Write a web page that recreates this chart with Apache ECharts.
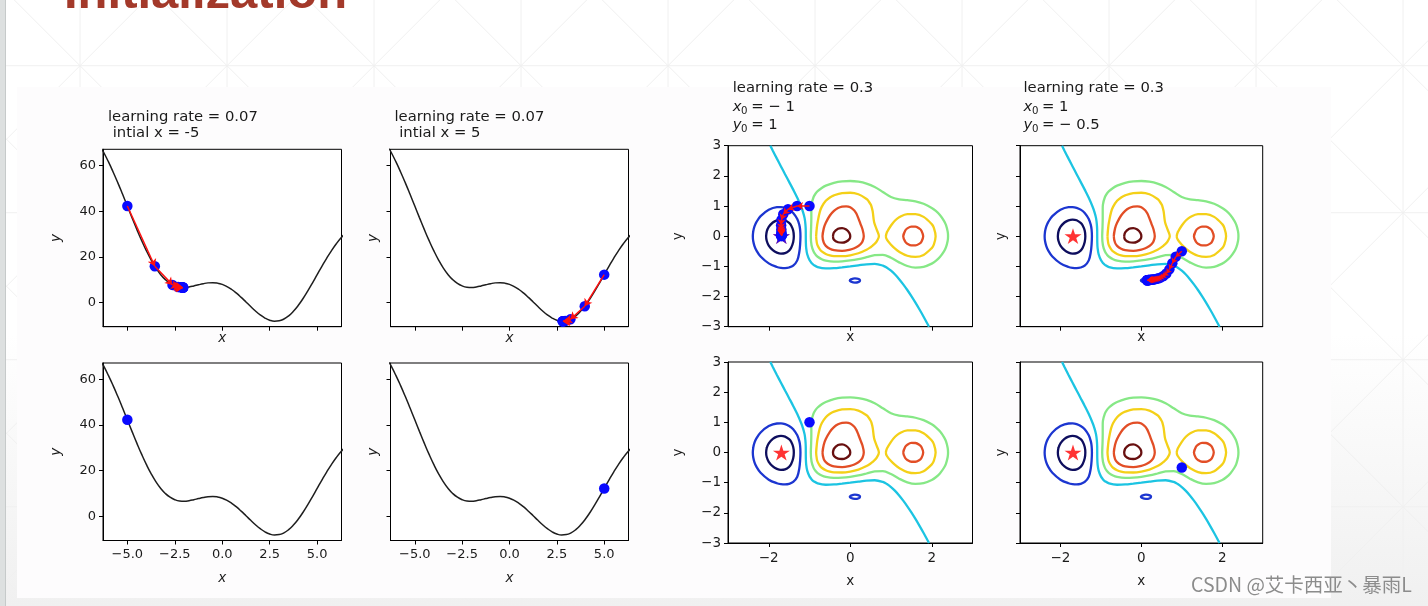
<!DOCTYPE html>
<html><head><meta charset="utf-8">
<script src="https://cdn.jsdelivr.net/npm/echarts@6/dist/echarts.min.js"></script>
<style>html,body{margin:0;padding:0;background:#fff;}#c{width:1428px;height:606px;}</style>
</head><body><div id="c"></div>
<script>
// ---------------- DATA ----------------
// 1-D objective curve
const curveX = [-6.5,-6.25,-6,-5.75,-5.5,-5.25,-5,-4.75,-4.5,-4.25,-4,-3.75,-3.5,-3.25,-3,-2.75,-2.5,-2.25,-2,-1.75,-1.5,-1.25,-1,-0.75,-0.5,-0.25,0,0.25,0.5,0.75,1,1.25,1.5,1.75,2,2.25,2.5,2.75,3,3.25,3.5,3.75,4,4.25,4.5,4.75,5,5.25,5.5,5.75,6,6.25,6.5];
const curveY = [69.56,65.81,61.68,57.20,52.42,47.41,42.27,37.11,32.06,27.24,22.77,18.75,15.26,12.36,10.08,8.42,7.34,6.79,6.67,6.89,7.32,7.84,8.32,8.67,8.77,8.56,8.00,7.06,5.77,4.17,2.32,0.34,-1.68,-3.61,-5.33,-6.71,-7.66,-8.08,-7.92,-7.14,-5.74,-3.75,-1.23,1.74,5.06,8.61,12.27,15.91,19.42,22.70,25.68,28.31,30.56];
// gradient-descent steps, learning rate 0.07
const gdLeftX  = [-5,-3.553,-2.622,-2.323,-2.197,-2.133,-2.098,-2.079,-2.068,-2.061,-2.057];
const gdLeftY  = [42.27,15.94,7.79,6.90,6.73,6.69,6.67,6.67,6.66,6.66,6.66];
const gdRightX = [5,3.973,3.214,2.934,2.849,2.821,2.812,2.810];
const gdRightY = [12.27,-1.53,-7.29,-8.02,-8.09,-8.10,-8.10,-8.10];
// contour paths (data units)
const cNavy = [[-2.064,0],[-2.05,0.15],[-2.0,0.306],[-1.9,0.454],[-1.8,0.527],[-1.7,0.55],[-1.6,0.527],[-1.5,0.44],[-1.45,0.354],[-1.4,0.184],[-1.385,0],[-1.4,-0.193],[-1.45,-0.384],[-1.5,-0.476],[-1.6,-0.56],[-1.7,-0.575],[-1.8,-0.544],[-1.9,-0.463],[-2.0,-0.309],[-2.05,-0.15],[-2.064,0],[-2.05,0.15]];
const cBlue = [[-2.391,0],[-2.38,0.166],[-2.35,0.326],[-2.3,0.475],[-2.2,0.664],[-2.0,0.875],[-1.8,0.962],[-1.7,0.966],[-1.6,0.942],[-1.5,0.881],[-1.4,0.772],[-1.3,0.571],[-1.25,0.376],[-1.23,0.217],[-1.222,0],[-1.23,-0.27],[-1.25,-0.525],[-1.3,-0.801],[-1.4,-0.977],[-1.5,-1.038],[-1.6,-1.056],[-1.7,-1.048],[-1.8,-1.02],[-2.0,-0.901],[-2.2,-0.673],[-2.3,-0.478],[-2.35,-0.325],[-2.38,-0.168],[-2.391,0],[-2.38,0.166]];
const cBlueSmall = [[-0.012,-1.47],[0.02,-1.43],[0.114,-1.395],[0.21,-1.42],[0.24,-1.47],[0.21,-1.515],[0.114,-1.54],[0.02,-1.51],[-0.012,-1.47],[0.02,-1.43]];
const cCyan = [[-1.96,3.0],[-1.9,2.835],[-1.8,2.571],[-1.7,2.312],[-1.6,2.056],[-1.5,1.801],[-1.4,1.544],[-1.3,1.273],[-1.2,0.961],[-1.159,0.8],[-1.12,0.6],[-1.1007,0.4],[-1.092,0.2],[-1.091,0],[-1.0895,-0.2],[-1.081,-0.4],[-1.056,-0.6],[-0.997,-0.8],[-0.942,-0.9],[-0.9,-0.951],[-0.8,-1.024],[-0.6,-1.069],[-0.4,-1.06],[-0.2,-1.032],[0,-1.0],[0.2,-0.965],[0.4,-0.932],[0.6,-0.92],[0.8,-0.975],[0.9,-1.045],[1.0,-1.145],[1.1,-1.272],[1.2,-1.424],[1.3,-1.596],[1.4,-1.784],[1.5,-1.987],[1.6,-2.202],[1.7,-2.431],[1.8,-2.668],[1.9,-2.917],[1.932,-3.0]];
const cGreen = [[-0.968,0],[-0.96,0.3],[-0.955,0.6],[-0.955,0.9],[-0.95,1.05],[-0.9,1.30],[-0.85,1.415],[-0.8,1.492],[-0.7,1.6],[-0.6,1.675],[-0.4,1.77],[-0.2,1.82],[0,1.83],[0.2,1.806],[0.4,1.742],[0.6,1.63],[0.8,1.468],[1.0,1.30],[1.2,1.224],[1.4,1.194],[1.6,1.152],[1.8,1.074],[2.0,0.937],[2.1,0.836],[2.2,0.702],[2.3,0.511],[2.35,0.367],[2.39,0.16],[2.4,0],[2.39,-0.16],[2.35,-0.365],[2.3,-0.506],[2.2,-0.693],[2.1,-0.82],[2.0,-0.91],[1.8,-1.017],[1.6,-1.041],[1.4,-0.988],[1.2,-0.867],[1.0,-0.715],[0.8,-0.617],[0.6,-0.627],[0.4,-0.696],[0.2,-0.759],[0,-0.805],[-0.2,-0.833],[-0.4,-0.841],[-0.6,-0.81],[-0.7,-0.765],[-0.8,-0.682],[-0.85,-0.613],[-0.9,-0.509],[-0.95,-0.30],[-0.968,0],[-0.96,0.3]];
const cYellowL = [[-0.837,0],[-0.82,0.28],[-0.8,0.47],[-0.75,0.79],[-0.7,0.972],[-0.6,1.172],[-0.5,1.283],[-0.4,1.355],[-0.2,1.43],[0,1.441],[0.2,1.389],[0.4,1.234],[0.45,1.16],[0.5,1.054],[0.52,0.99],[0.55,0.825],[0.58,0.51],[0.6,0.4],[0.65,0.22],[0.703,0],[0.65,-0.17],[0.6,-0.25],[0.55,-0.31],[0.5,-0.364],[0.4,-0.45],[0.2,-0.566],[0,-0.633],[-0.2,-0.663],[-0.4,-0.658],[-0.5,-0.636],[-0.6,-0.591],[-0.7,-0.505],[-0.75,-0.43],[-0.8,-0.31],[-0.82,-0.22],[-0.837,0],[-0.82,0.28]];
const cYellowR = [[0.874,0],[0.9,0.13],[1.0,0.355],[1.1,0.522],[1.2,0.63],[1.4,0.733],[1.6,0.733],[1.8,0.641],[2.0,0.40],[2.05,0.282],[2.095,0],[2.05,-0.28],[2.0,-0.394],[1.8,-0.62],[1.6,-0.686],[1.4,-0.648],[1.2,-0.515],[1.1,-0.414],[1.0,-0.285],[0.9,-0.115],[0.874,0],[0.9,0.13]];
const cOrangeL = [[-0.681,0],[-0.65,0.26],[-0.6,0.445],[-0.5,0.686],[-0.4,0.84],[-0.3,0.934],[-0.2,0.98],[-0.1,0.99],[0,0.96],[0.1,0.854],[0.15,0.75],[0.2,0.59],[0.25,0.41],[0.3,0.23],[0.332,0],[0.3,-0.175],[0.25,-0.266],[0.2,-0.323],[0.1,-0.398],[0,-0.443],[-0.2,-0.484],[-0.4,-0.463],[-0.5,-0.417],[-0.6,-0.319],[-0.65,-0.217],[-0.681,0],[-0.65,0.26]];
const cOrangeR = [[1.3,0],[1.35,0.19],[1.4,0.26],[1.5,0.318],[1.6,0.315],[1.7,0.25],[1.75,0.175],[1.79,0],[1.75,-0.174],[1.7,-0.246],[1.6,-0.306],[1.5,-0.306],[1.4,-0.249],[1.35,-0.184],[1.3,0],[1.35,0.19]];
const cDarkRed = [[-0.424,0],[-0.4,0.125],[-0.3,0.246],[-0.2,0.27],[-0.1,0.22],[-0.02,0.105],[0,0],[-0.02,-0.093],[-0.1,-0.18],[-0.2,-0.215],[-0.3,-0.201],[-0.4,-0.115],[-0.424,0],[-0.4,0.125]];
// gradient-descent steps, learning rate 0.3
const trajCX = [-1.0,-1.305,-1.527,-1.644,-1.689,-1.696,-1.692,-1.689,-1.690,-1.690,-1.690,-1.690,-1.690,-1.690];
const trajCY = [1.0,1.0,0.894,0.726,0.538,0.363,0.227,0.136,0.079,0.046,0.027,0.016,0.009,0.005];
const trajDX = [1.0,0.850,0.766,0.693,0.617,0.546,0.484,0.429,0.382,0.342,0.308,0.279,0.254,0.233,0.215,0.200,0.187,0.176,0.166,0.158,0.152,0.146,0.141,0.137];
const trajDY = [-0.5,-0.683,-0.898,-1.099,-1.237,-1.319,-1.366,-1.395,-1.413,-1.424,-1.432,-1.438,-1.443,-1.446,-1.449,-1.451,-1.453,-1.455,-1.456,-1.457,-1.458,-1.459,-1.460,-1.460];
const minPoint = [-1.69, 0];
// ticks
const xTicks1D = [-5, -2.5, 0, 2.5, 5];
const yTicks1D = [0, 20, 40, 60];
const xTicks2D = [-2, 0, 2];
const yTicks2D = [-3, -2, -1, 0, 1, 2, 3];

// ---------------- STYLE / LAYOUT ----------------
const FONT = 'DejaVu Sans';
const TXT = '#1a1a1a';
const levels = [
  {paths:[cNavy], color:'#0e0e5e'},
  {paths:[cBlue, cBlueSmall], color:'#1c36d0'},
  {paths:[cCyan], color:'#1cc4e2'},
  {paths:[cGreen], color:'#86e886'},
  {paths:[cYellowL, cYellowR], color:'#f4d018'},
  {paths:[cOrangeL, cOrangeR], color:'#e24e26'},
  {paths:[cDarkRed], color:'#681010'}
];
const panels = [
  {kind:'1d', box:[103,149.3,238.5,177.4], xl:false, yl:true},
  {kind:'1d', box:[390.5,149.3,238,177.4], xl:false, yl:false},
  {kind:'1d', box:[103,363,238.5,177.5], xl:true, yl:true},
  {kind:'1d', box:[390.5,363,238,177.5], xl:true, yl:false},
  {kind:'2d', box:[728,145.7,244.5,181], xl:false, yl:true},
  {kind:'2d', box:[1020,145.7,242.7,181], xl:false, yl:false},
  {kind:'2d', box:[728,362,244.5,181], xl:true, yl:true},
  {kind:'2d', box:[1020,362,242.7,181], xl:true, yl:false}
];
const fmt1 = v => (v < 0 ? '\u2212' : '') + Math.abs(v).toFixed(1);
const fmt0 = v => (v < 0 ? '\u2212' : '') + Math.abs(v);
const pairs = (xs, ys) => xs.map((x, i) => [x, ys[i]]);

const grid = [], xAxis = [], yAxis = [];
panels.forEach((p, i) => {
  const is1 = p.kind === '1d';
  grid.push({left:p.box[0], top:p.box[1], width:p.box[2], height:p.box[3], show:true,
    backgroundColor:'#ffffff', borderColor:'#000', borderWidth:1, containLabel:false});
  const xt = is1 ? xTicks1D : xTicks2D, yt = is1 ? yTicks1D : yTicks2D;
  const tick = vals => ({show:true, inside:false, length:4, lineStyle:{color:'#000', width:1}, customValues:vals});
  const fs = is1 ? 13 : 13.5;
  xAxis.push({type:'value', gridIndex:i, min: is1 ? -6.283 : -3, max: is1 ? 6.283 : 3,
    axisLine:{show:true, onZero:false, lineStyle:{color:'#000', width:1}},
    axisTick:tick(xt), splitLine:{show:false},
    axisLabel:{show:p.xl, customValues:xt, formatter: is1 ? fmt1 : fmt0, fontFamily:FONT,
      fontSize:fs, color:TXT, margin:8},
    name:'x', nameLocation:'middle', nameGap: p.xl ? 31 : (is1 ? 4.5 : 3.5),
    nameTextStyle:{fontFamily:FONT, fontSize:13.5, fontStyle: is1 ? 'italic' : 'normal', color:TXT}
  });
  yAxis.push({type:'value', gridIndex:i, min: is1 ? -10.5 : -3, max: is1 ? 67.1 : 3,
    axisLine:{show:true, onZero:false, lineStyle:{color:'#000', width:1}},
    axisTick:tick(yt), splitLine:{show:false},
    axisLabel:{show:p.yl, customValues:yt, formatter: fmt0, fontFamily:FONT,
      fontSize:fs, color:TXT, margin:7},
    name:'y', nameLocation:'middle', nameGap: p.yl ? (is1 ? 40 : 43) : (is1 ? 10 : 12),
    nameTextStyle:{fontFamily:FONT, fontSize:13.5, fontStyle: is1 ? 'italic' : 'normal', color:TXT}
  });
});

const STAR = 'path://M50,0 L61.8,35.4 L100,35.4 L69.1,57.3 L80.9,92.7 L50,70.8 L19.1,92.7 L30.9,57.3 L0,35.4 L38.2,35.4 Z';
const series = [];
function curve(gi) {
  series.push({type:'line', xAxisIndex:gi, yAxisIndex:gi, data:pairs(curveX, curveY), showSymbol:false,
    smooth:true, clip:true, silent:true, lineStyle:{color:'#1e1e1e', width:1.5}, z:2});
}
function dots(gi, pts) {
  series.push({type:'scatter', xAxisIndex:gi, yAxisIndex:gi, data:pts, symbolSize:10.5,
    itemStyle:{color:'#0a0aff', opacity:1}, silent:true, z:4});
}
function arrows(gi, pts, size) {
  const segs = [];
  for (let k = 0; k < pts.length - 1; k++) segs.push({coords:[pts[k], pts[k+1]]});
  series.push({type:'lines', coordinateSystem:'cartesian2d', xAxisIndex:gi, yAxisIndex:gi, data:segs,
    symbol:['none','arrow'], symbolSize:size, lineStyle:{color:'#ff1010', width:1.5, opacity:1, curveness:0},
    silent:true, z:5});
}
function star(gi, pt, color, z) {
  series.push({type:'scatter', xAxisIndex:gi, yAxisIndex:gi, data:[pt], symbol:STAR, symbolKeepAspect:true,
    symbolSize:17, itemStyle:{color:color}, silent:true, z:z});
}
function contours(gi) {
  levels.forEach(lv => lv.paths.forEach(path => series.push({type:'line', xAxisIndex:gi, yAxisIndex:gi,
    data:path, showSymbol:false, smooth:0.35, clip:true, silent:true,
    lineStyle:{color:lv.color, width:2.3}, z:2})));
}
// 1-D panels
[0,1,2,3].forEach(curve);
const ptsL = pairs(gdLeftX, gdLeftY), ptsR = pairs(gdRightX, gdRightY);
dots(0, ptsL); arrows(0, ptsL, 7);
dots(1, ptsR); arrows(1, ptsR, 7);
dots(2, [ptsL[0]]);
dots(3, [ptsR[0]]);
// contour panels
[4,5,6,7].forEach(gi => { contours(gi); star(gi, minPoint, '#ff0000', 3); });
const ptsC = pairs(trajCX, trajCY), ptsD = pairs(trajDX, trajDY);
dots(4, ptsC); star(4, ptsC[ptsC.length-1], '#0a0aff', 4); arrows(4, ptsC, 6);
dots(5, ptsD); arrows(5, ptsD, 5);
dots(6, [ptsC[0]]);
dots(7, [ptsD[0]]);

// ---------------- DECORATION & TEXT ----------------
const g = [];
g.push({type:'rect', silent:true, z:-30, shape:{x:0,y:0,width:1428,height:606},
  style:{fill:{type:'linear',x:0,y:0,x2:0,y2:1,colorStops:[{offset:0,color:'#ffffff'},{offset:0.55,color:'#ffffff'},{offset:1,color:'#f0f0f0'}]}}});
const lc = '#f0f0f0';
for (let k = 0; k < 10; k++) { const x = 80 + 147*k; g.push({type:'line', silent:true, z:-29, shape:{x1:x,y1:0,x2:x,y2:606}, style:{stroke:lc,lineWidth:1}}); }
for (let k = 0; k < 4; k++) { const y = 65.7 + 147*k; g.push({type:'line', silent:true, z:-29, shape:{x1:0,y1:y,x2:1428,y2:y}, style:{stroke:lc,lineWidth:1}}); }
for (let m = -12; m < 14; m++) {
  const c = -14.3 + 147*m; // y = x + c
  g.push({type:'line', silent:true, z:-29, shape:{x1:-700,y1:-700+c,x2:2200,y2:2200+c}, style:{stroke:lc,lineWidth:1}});
  const d = 145.7 + 147*m; // y = -x + d
  g.push({type:'line', silent:true, z:-29, shape:{x1:-700,y1:700+d,x2:2200,y2:-2200+d}, style:{stroke:lc,lineWidth:1}});
}
g.push({type:'rect', silent:true, z:-28, shape:{x:17,y:87,width:1314,height:511}, style:{fill:'#fdfcfd'}});
g.push({type:'rect', silent:true, z:-27, shape:{x:0,y:0,width:5.5,height:606}, style:{fill:'#dde0e0'}});
g.push({type:'line', silent:true, z:-27, shape:{x1:5.5,y1:0,x2:5.5,y2:606}, style:{stroke:'#c6caca',lineWidth:1}});
// slide heading (cut off at top)
g.push({type:'text', silent:true, z:10, x:64, y:-6, style:{text:'Initialization', fill:'#a3392a',
  font:'bold 49px "Liberation Sans", Arial, sans-serif', align:'left', verticalAlign:'middle'}});
// titles
function txt(x, y, s, size, italic) {
  g.push({type:'text', silent:true, z:10, x:x, y:y, style:{text:s, fill:TXT,
    font:(italic ? 'italic ' : '') + size + 'px "' + FONT + '"', align:'left', verticalAlign:'middle'}});
}
function mathLine(x, y, v, rest) {
  txt(x, y, v, 14.8, true);
  txt(x + 8.4, y + 4, '0', 10.2, false);
  txt(x + 13.8, y, rest, 14.8, false);
}
txt(108, 117, 'learning rate = 0.07', 14.8); txt(108, 133.5, ' intial x = -5', 14.8);
txt(394.5, 117, 'learning rate = 0.07', 14.8); txt(394.5, 133.5, ' intial x = 5', 14.8);
txt(732.7, 88.5, 'learning rate = 0.3', 14.8);
mathLine(732.7, 107.5, 'x', ' = \u2212 1');
mathLine(732.7, 125.5, 'y', ' = 1');
txt(1023.5, 88.5, 'learning rate = 0.3', 14.8);
mathLine(1023.5, 107.5, 'x', ' = 1');
mathLine(1023.5, 125.5, 'y', ' = \u2212 0.5');
// watermark
g.push({type:'text', silent:true, z:10, x:1191, y:585, style:{text:'CSDN @艾卡西亚丶暴雨L', fill:'#8c8c8c',
  font:'19.5px "Noto Sans CJK SC"', align:'left', verticalAlign:'middle'}});

const chart = echarts.init(document.getElementById('c'), null, {renderer:'canvas'});
chart.setOption({animation:false, backgroundColor:'transparent', grid, xAxis, yAxis, series, graphic:{elements:g}});
</script></body></html>
